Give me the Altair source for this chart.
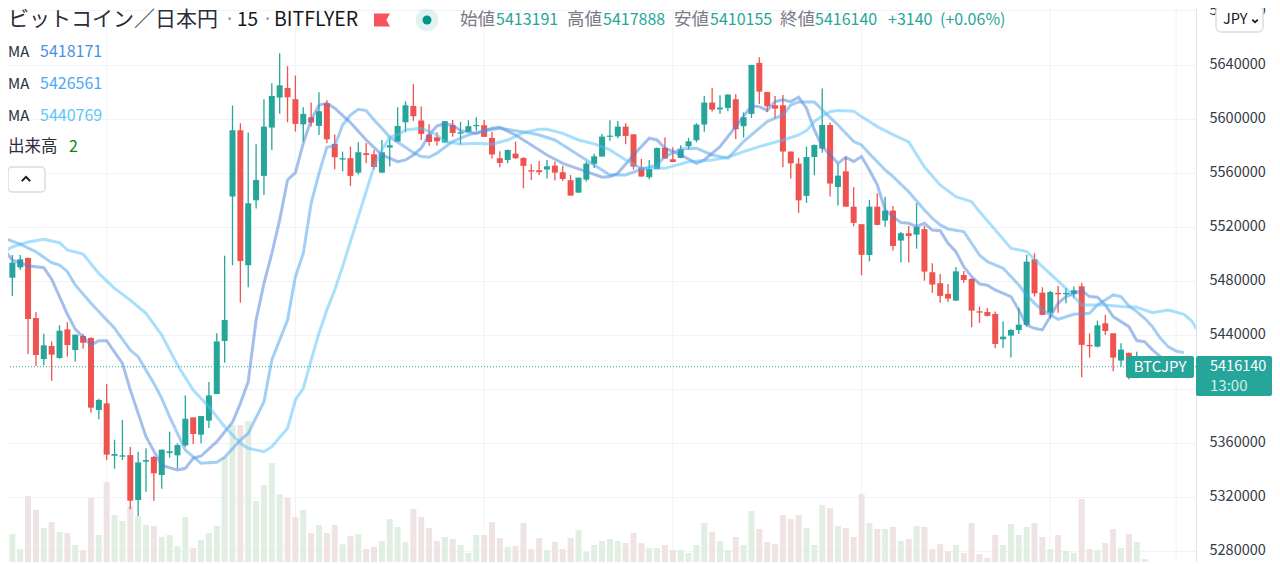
import altair as alt
import pandas as pd

# Candle data in thousands of yen, candle numbers run from -1 to 144
OPEN = [5490.7,5482.1,5489.7,5496.7,5452.2,5421.8,5431.5,5422.6,5443.8,5428.5,5438.9,5437.4,5384.1,5389,5350.2,5349.5,5350.7,5317.4,5345.8,5349.3,5335.9,5352.2,5350.5,5357.9,5378.6,5365.8,5376.2,5395.9,5435.2,
5542.2,5591.3,5491.3,5539.4,5557.5,5593.3,5615.5,5622.6,5614.3,5595.7,5600.9,5594.5,5611.3,5581.2,5569.6,5570.6,5559.9,5574.3,5573.5,5559.9,5578.5,5582.9,5597.2,5609.3,5598.5,5588.1,5586.1,5582.2,5595,5588.8,5590.1,5594.3,5595,5585.6,5570.6,5569.3,5574,5570.8,5561.7,5561.7,
5562.2,5565.1,5560.2,5554.3,5545.1,5554.7,5566.4,5571.8,5586.4,5586.8,5594,5588.3,5563.9,5556.5,5562.6,5578.2,5569.8,5570.8,5579.4,5583.9,5595.5,5611.8,5606.8,5607.8,5614.3,5594.3,5603.4,5641.2,5619.7,5609.8,5609.8,5575.5,5566.6,5542.7,5571.5,5577.7,5595.2,5549.3,5560.9,5534.7,5521.7,
5498.9,5534.7,5524.4,5531.8,5509.6,5515,5514,5518,5486.1,5478,5470.1,5465.1,5484.1,5481.2,5457.2,5456.7,5455.2,5436.5,5439.2,5443.4,5447.1,5495.7,5471,5456.2,5470.8,5469.8,5470.1,5475.7,5432.3,5431,5448.3,5440.9,5420.7,5426.4,5416.2,5413.191]
HIGH = [5490.7,5498.9,5498.9,5497.1,5456.7,5440.6,5434.9,5446.8,5449.2,5439.9,5440.4,5437.9,5392.5,5403.3,5362.1,5376.7,5356.7,5353.2,5355.7,5350,5354.9,5368,5359.4,5394.9,5378.6,5379.6,5404.8,5440.9,5498.4,
5609.6,5596.5,5589.6,5580.9,5614.3,5626.1,5648.3,5638.7,5631.8,5608.3,5611.8,5619.4,5613.5,5588.1,5575.5,5579.2,5582.4,5581.9,5576.7,5584.1,5585.4,5608.3,5612.8,5625.4,5608.8,5595.7,5589.8,5598.2,5598.9,5597.5,5598.7,5600.9,5598.9,5590.1,5575.7,5577,5582.9,5571.3,5566.1,5568.6,
5569.3,5568.1,5564.9,5558.2,5556.2,5568.1,5573.8,5588.6,5598.7,5598.2,5596.5,5588.3,5570.1,5569.3,5578.5,5585.9,5578.7,5580.2,5585.6,5596.5,5616.7,5622.6,5617.2,5618,5618,5604.6,5639.7,5645.4,5619.7,5616.7,5617.5,5575.5,5571,5579.2,5580.7,5622.2,5597,5566.4,5571.5,5549.1,5521.7,
5539.7,5544.6,5542.1,5535.2,5516,5520.4,5537.2,5520.4,5492.8,5484.9,5477.5,5490.1,5487.1,5481.7,5460.7,5459.7,5457,5449.8,5443.9,5459.4,5498.9,5500.2,5475,5472.5,5476.2,5474.5,5475.5,5478.4,5440.9,5450.3,5454.7,5440.9,5433.5,5426.6,5427.3,5417.888]
LOW = [5484.1,5468.5,5487.8,5425.5,5416.7,5417.2,5405.8,5422.1,5423.6,5420.1,5429.5,5382.1,5377.2,5347,5340.6,5347,5310.5,5305.6,5323.6,5316.9,5325.8,5348.8,5340.9,5356.9,5358.9,5359.4,5370.7,5395.9,5419.1,
5491.3,5463.6,5475,5533.3,5543.4,5576.7,5603.6,5597.2,5590.3,5582.9,5594,5587.8,5581.7,5562.4,5560.9,5550.1,5558.5,5566.8,5562.4,5559.9,5564.4,5582.9,5589.8,5598.2,5584.1,5579.9,5579.9,5582.2,5586.4,5580.7,5590.1,5591,5586.4,5570.3,5563.9,5566.8,5570.1,5548.3,5554.5,5558.2,
5555.5,5554,5553.8,5542.9,5544.9,5553.3,5563.4,5571.8,5583.6,5585.4,5580.9,5562.2,5557,5555,5562.4,5570.1,5567.6,5570.6,5577.2,5582.4,5590.1,5605.1,5603.6,5605.4,5584.9,5585.9,5600.4,5610.8,5604.9,5600.2,5563.9,5555.5,5530.1,5537.5,5558,5574.7,5542.2,5535.5,5534.7,5520.2,5483.9,
5494.2,5520.7,5519.9,5502.1,5493.3,5493.3,5503.6,5479.9,5471,5463.6,5464.1,5464.9,5478.4,5445.4,5448.6,5453.3,5429.8,5430.1,5422.9,5440.4,5445.9,5468.1,5454.5,5451.8,5456.2,5463.1,5466.8,5408.3,5422.9,5430.5,5439.7,5412.8,5416.2,5406.8,5407.6,5410.155]
CLOSE = [5484.1,5493.2,5495.7,5451.5,5424.8,5432,5425.1,5442.8,5432.2,5439.9,5433.9,5385.8,5391.5,5351,5351.5,5350.5,5316.9,5345.3,5347,5337.2,5354.7,5353.5,5358.1,5377.6,5366.3,5379.6,5394.9,5434.9,5450.7,
5591.3,5494.5,5537.2,5554.5,5594,5616.7,5624.6,5615.7,5596,5603.4,5597,5605.4,5584.6,5571.3,5570.6,5557.5,5575,5573,5564.1,5575,5580.2,5594.5,5609.8,5601.7,5588.6,5582.6,5583.1,5598,5589.3,5589.8,5594.3,5595.2,5586.4,5573.3,5567.1,5576.7,5570.6,5564.9,5560.7,5560.2,
5564.6,5559.9,5555.2,5542.9,5556.2,5566.6,5572,5586.6,5587.3,5594,5587.1,5564.4,5557,5562.6,5578.2,5570.3,5567.8,5577.2,5583.1,5595.5,5611.8,5606.6,5608.1,5617.7,5592,5600.9,5639.7,5619.9,5609.1,5607.3,5575.5,5566.8,5539.4,5571.5,5580.4,5595.2,5551.8,5557.7,5534.7,5522.7,5499,
5534.7,5521.2,5531.8,5505.6,5515,5513,5519.7,5486.6,5477,5468.6,5466.6,5486.8,5480.4,5457.7,5456.2,5453.8,5433,5438.4,5443.4,5447.3,5494,5470.5,5454.5,5471.5,5469.8,5470.8,5472.8,5432.3,5431.3,5446.8,5442.6,5422.9,5428.8,5415,5421.2,5416.14]
VOLUME = [17,28,13,66,52,34,40,30,29,17,12,64,27,80,47,41,56,46,37,36,25,27,16,45,14,22,29,36,105,137,137,141,61,77,99,68,64,45,52,
29,37,29,37,18,26,28,13,15,21,43,35,20,53,45,34,21,25,23,17,9,27,27,40,24,15,16,39,13,24,12,20,13,24,32,10,17,21,23,21,19,29,19,14,14,17,12,12,9,17,39,30,21,12,25,17,
51,33,20,18,47,43,47,34,17,57,54,36,34,25,68,39,33,33,35,21,23,36,35,13,18,11,17,9,39,8,4,27,17,38,27,35,39,25,13,27,11,9,63,13,12,19,33,14,28,20,3]

MA1_N = [-1,0,2,4,5,6,7,8,10,11,12,14,15,17,19,21,22,23,24,26,28,29,30,31,32,33,34,35,36,37,38,39,40,41,43,45,47,49,50,51,52,53,54,55,56,57,59,61,62,64,66,68,70,73,75,76,77,79,81,82,83,85,87,88,90,92,94,95,96,97,98,99,100,101,102,103,105,106,107,108,109,110,111,112,113,114,115,116,117,118,119,120,121,122,123,124,125,127,128,129,130,131,132,133,134,136,137,138,139,140,142,143,144,145,146,147,148]
MA1 = [5502.6,5495,5491,5489.5,5481,5468,5455,5444,5432.2,5435.4,5435.4,5418.6,5399,5364.3,5343,5339.6,5340.9,5348.3,5350,5360.6,5375,5389,5405,5450.7,5477.9,5500,5524.9,5554.5,5559.9,5581.7,5598.9,5610,5611.3,5607.6,5597,5584.1,5573,5568,5569.3,5573,5578,5587.8,5594.5,5596,5595,5591,5589,5592.8,5593.5,5587.8,5580.4,5573,5566.8,5560.7,5556.5,5557,5559.4,5573,5585.4,5584.1,5578,5573,5566.8,5569.3,5579.2,5594,5609.3,5608.8,5605.9,5612.5,5613.8,5612.5,5615.7,5607.6,5591.5,5579.2,5566.8,5571.3,5568.1,5571.8,5561.9,5550.8,5532.2,5527.3,5522.9,5522.4,5519.9,5522.4,5517.4,5516.9,5507.6,5501.4,5490.3,5482.9,5477.5,5476.5,5473,5468.1,5458.2,5447,5444.6,5443.4,5453.3,5463.1,5468.1,5472.5,5468.1,5467.6,5461.9,5453.3,5445.8,5435.5,5434.7,5428.6,5423.6,5419.9,5418.171]
MA2_N = [-1,1,3,5,6,7,8,10,13,15,16,18,19,20,21,22,24,26,27,29,30,32,33,35,36,37,38,39,40,41,42,43,44,45,46,47,48,49,50,51,52,53,54,55,56,58,60,62,64,66,67,69,71,73,74,76,78,80,82,83,85,87,89,91,92,93,94,96,98,99,100,102,103,105,107,108,109,110,111,112,114,116,117,118,119,121,122,123,124,126,127,128,129,130,131,132,133,135,137,138,139,140,141,142,143,144,145,146,147,148,149]
MA2 = [5511.2,5507,5501.3,5493.2,5491.5,5486.5,5476.7,5463.1,5444.6,5428.5,5423.6,5403.8,5392.7,5379.1,5366.8,5354.4,5344.6,5345.3,5349,5361.8,5366.8,5390.2,5421.1,5450.7,5482.8,5500,5537.2,5559.4,5578.7,5579.7,5595.2,5602.6,5606.8,5605.9,5598.9,5592.8,5586.1,5582.4,5578.7,5574.7,5571.8,5571.3,5574.3,5578.7,5582.9,5587.8,5591,5592.8,5591,5589,5587.8,5584.1,5576.7,5569.3,5565.6,5558.2,5558.2,5562.4,5565.6,5571.8,5577.5,5578,5573,5570.6,5576.7,5582.9,5587.8,5597.7,5602.6,5610,5612.3,5612.3,5606.4,5595.2,5582.9,5580.4,5574,5568,5561.9,5557,5545.8,5532.3,5526.1,5521.2,5518.2,5516.2,5507.6,5498.9,5494,5489.1,5482.9,5476.7,5469.3,5463.1,5458.2,5454.5,5451.3,5455,5455.7,5461.9,5465.6,5469.3,5468.1,5461.2,5457,5452,5445.8,5437.2,5431,5427.8,5426.561]
MA3_N = [-1,0,2,4,6,7,9,11,13,15,17,19,21,23,25,27,29,30,32,33,35,36,37,38,39,40,41,42,43,44,45,46,47,48,49,50,52,54,55,57,59,61,63,65,67,68,70,72,74,76,78,80,83,86,89,91,93,95,98,100,101,102,103,104,105,107,108,109,110,112,114,116,118,120,122,123,125,127,129,131,134,136,139,141,143,145,147,149,150,151]
MA3 = [5501.3,5505,5508.5,5510.5,5508,5502.6,5499.6,5485.3,5474.2,5465.5,5455.7,5439.6,5417.4,5398.9,5386.5,5371.7,5359.4,5355.7,5353.2,5356.9,5370.5,5391.5,5400.1,5421,5441,5458.2,5473,5490.3,5508.8,5527.3,5545.9,5564.4,5576.7,5586.1,5587.8,5591.5,5592.8,5587.8,5582.9,5581.2,5581.7,5580.9,5584.1,5589.6,5592,5592,5589,5584.1,5581.2,5576.7,5569.3,5563.1,5563.1,5568,5569.3,5571.3,5575.5,5579.2,5584.1,5587.8,5591,5597.7,5601.9,5605.1,5605.9,5605.4,5601.4,5597.7,5594,5588,5582.6,5564,5550.8,5542.1,5538.4,5531,5517.5,5503.9,5501.4,5490.3,5474.2,5461.9,5461.9,5460.7,5460.2,5456.2,5458.2,5455,5450,5440.769]

PRICE_TICKS = [5280000,5320000,5360000,5400000,5440000,5480000,5520000,5560000,5600000,5640000,5680000]
SESSION_LINES = [12,36,60,84,108,132,148]
LAST_PRICE = 5416140

UP, DOWN = "#26a69a", "#ef5350"
JP = "Noto Sans CJK JP"
W, H = 1188, 554
XS = alt.Scale(domain=[0.084, 149.9], nice=False, zero=False)
PS = alt.Scale(domain=[5271500, 5681850], nice=False, zero=False)
VS = alt.Scale(domain=[0, H], nice=False, zero=True)

n = len(OPEN)
assert all(len(a) == n for a in (HIGH, LOW, CLOSE, VOLUME)), [len(a) for a in (OPEN, HIGH, LOW, CLOSE, VOLUME)]
df = pd.DataFrame({"n": range(-1, n - 1),
                   "o": [v * 1000 for v in OPEN], "h": [v * 1000 for v in HIGH],
                   "l": [v * 1000 for v in LOW], "c": [v * 1000 for v in CLOSE], "v": VOLUME})
df["up"] = df.c >= df.o
color = alt.Color("up:N", scale=alt.Scale(domain=[True, False], range=[UP, DOWN]), legend=None)
vcolor = alt.Color("up:N", scale=alt.Scale(domain=[True, False], range=["#deede0", "#eee1e1"]), legend=None)
X = alt.X("n:Q", scale=XS, axis=None)

axis_layer = alt.Chart(pd.DataFrame({"p": PRICE_TICKS})).mark_rule(opacity=0).encode(
    y=alt.Y("p:Q", scale=PS, title=None, axis=alt.Axis(
        orient="right", values=PRICE_TICKS, format="d", ticks=False, labelPadding=13,
        labelFont=JP, labelFontSize=14.5, labelColor="#333a45", labelOverlap=False, labelBound=False,
        gridColor="#f1f3f6", grid=True, domainColor="#e0e3eb")))
vlines = alt.Chart(pd.DataFrame({"n": SESSION_LINES})).mark_rule(color="#f1f3f6").encode(
    x=alt.X("n:Q", scale=XS, title=None, axis=alt.Axis(labels=False, ticks=False, grid=False, domainColor="#dde0e6", domainWidth=2)))
volume = alt.Chart(df).mark_bar(width=6, clip=True, opacity=0.92, orient="vertical").encode(
    x=X, y=alt.Y("v:Q", scale=VS, axis=None), y2=alt.value(H), color=vcolor)
wick = alt.Chart(df).mark_rule(strokeWidth=1.3, clip=True).encode(
    x=X, y=alt.Y("l:Q", scale=PS, axis=None), y2="h:Q", color=color)
body = alt.Chart(df).mark_rule(strokeWidth=6, clip=True).encode(
    x=X, y=alt.Y("o:Q", scale=PS, axis=None), y2="c:Q", color=color)

def ma(ns, vals, col):
    d = pd.DataFrame({"n": ns, "p": [v * 1000 for v in vals]})
    return alt.Chart(d).mark_line(color=col, strokeWidth=3, opacity=0.5, clip=True).encode(
        x=X, y=alt.Y("p:Q", scale=PS, axis=None))

last_line = alt.Chart(pd.DataFrame({"p": [LAST_PRICE]})).mark_rule(
    color=UP, strokeDash=[1, 2], strokeWidth=1).encode(y=alt.Y("p:Q", scale=PS, axis=None))

def text(s, x, y, col="#131722", size=16, align="left"):
    return alt.Chart(pd.DataFrame({"t": [s]})).mark_text(
        align=align, baseline="middle", font=JP, fontSize=size, color=col
    ).encode(text="t:N", x=alt.value(x - 8), y=alt.value(y - 8))

def box(x0, y0, x1, y1, fill, stroke=None, radius=0):
    kw = dict(fill=fill, cornerRadius=radius)
    if stroke:
        kw.update(stroke=stroke, strokeWidth=1.5)
    return alt.Chart(pd.DataFrame({"a": [0]})).mark_rect(**kw).encode(
        x=alt.value(x0 - 8), x2=alt.value(x1 - 8), y=alt.value(y0 - 8), y2=alt.value(y1 - 8))

def sym(x, y, shape, size, fill=None, stroke=None, opacity=1, sw=1.5):
    kw = dict(shape=shape, size=size, opacity=opacity, filled=fill is not None, strokeWidth=sw)
    if fill:
        kw["fill"] = fill
    if stroke:
        kw["stroke"] = stroke
    return alt.Chart(pd.DataFrame({"a": [0]})).mark_point(**kw).encode(
        x=alt.value(x - 8), y=alt.value(y - 8))

GREY = "#787b86"
TEAL = "#26a69a"
labels = [
    text("ビットコイン／日本円", 8, 20, "#2a2e39", 21),
    text("·", 224, 20, "#9598a1", 20), text("15", 237, 20, "#131722", 19),
    text("·", 262, 20, "#9598a1", 20), text("BITFLYER", 274, 20, "#131722", 19.5),
    sym(382, 20, "M-1,-0.8 L1,-0.8 L0.55,0 L1,0.8 L-1,0.8 Z", 256, fill="#f7525f"),
    sym(427, 20, "circle", 500, fill="#009688", opacity=0.12),
    sym(427, 20, "circle", 80, fill="#009688"),
    text("始値", 460, 20, GREY, 17.5), text("5413191", 496, 20, TEAL, 16),
    text("高値", 567, 20, GREY, 17.5), text("5417888", 603, 20, TEAL, 16),
    text("安値", 674, 20, GREY, 17.5), text("5410155", 710, 20, TEAL, 16),
    text("終値", 780, 20, GREY, 17.5), text("5416140", 815, 20, TEAL, 16),
    text("+3140", 888, 20, TEAL, 16), text("(+0.06%)", 940, 20, TEAL, 16),
    text("MA", 8, 52, "#2a2e39", 15), text("5418171", 40, 52, "#4a90e2", 16),
    text("MA", 8, 84, "#2a2e39", 15), text("5426561", 40, 84, "#4fa8f0", 16),
    text("MA", 8, 116, "#2a2e39", 15), text("5440769", 40, 116, "#5ac8fa", 16),
    text("出来高", 8, 147, "#2a2e39", 16.5), text("2", 69, 147, "#0a8a0a", 16),
    box(8, 167, 45, 192, "#ffffff", "#d9dce3", 4),
    sym(26, 179, "M-1,0.5 L0,-0.5 L1,0.5", 70, stroke="#131722", sw=2),
    box(1126, 356, 1194, 378, TEAL, None, 2),
    text("BTCJPY", 1160, 367, "#ffffff", 15, align="center"),
    box(1196, 356, 1272, 396, TEAL, None, 2),
    text("5416140", 1210, 367, "#ffffff", 14.5),
    text("13:00", 1210, 386, "#d5eeeb", 15),
    box(1216, 6, 1263, 32, "#ffffff", "#d9dce3", 5),
    text("JPY", 1223, 20, "#131722", 14.5),
    sym(1255, 21, "M-1,-0.5 L0,0.5 L1,-0.5", 30, stroke="#131722", sw=1.7),
]

chart = alt.layer(
    axis_layer, vlines, volume, wick, body,
    ma(MA1_N, MA1, "#4a80d8"), ma(MA2_N, MA2, "#4aa0ea"), ma(MA3_N, MA3, "#52c0fa"),
    last_line, *labels
).resolve_scale(y="independent", color="independent").properties(
    width=W, height=H,
    autosize=alt.AutoSizeParams(type="none"),
    padding={"left": 0, "top": 0, "right": 76, "bottom": 2},
).configure_view(stroke=None)

chart.save("out.html", embed_options={"renderer": "svg", "actions": False})
